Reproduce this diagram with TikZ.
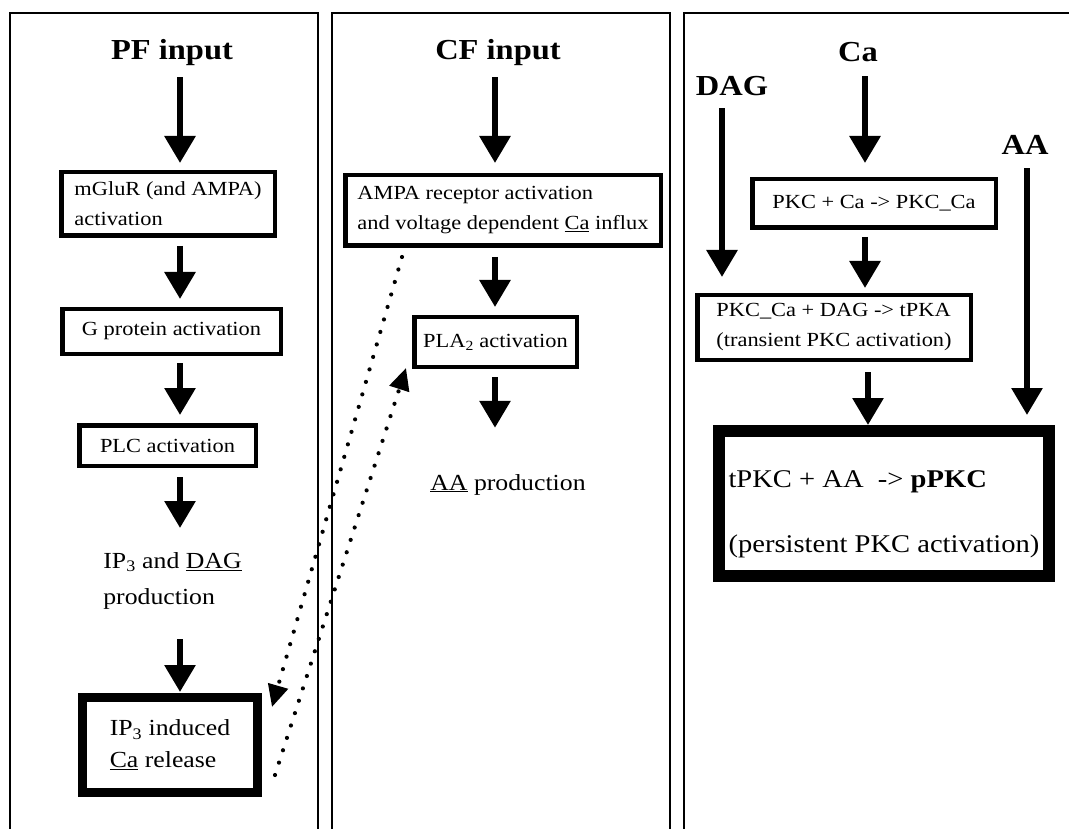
\documentclass[tikz,border=0pt]{standalone}
\usepackage{fontspec}
\setmainfont{Liberation Serif}[FakeStretch=1.12]
\usetikzlibrary{arrows.meta,calc}
\begin{document}
\begin{tikzpicture}[x=1pt,y=-1pt,
  panel/.style={line width=2pt, line join=miter},
  procbox/.style={draw, line width=4.5pt, inner sep=0pt, align=left, font=\fontsize{20}{30}\selectfont},
  thickbox/.style={procbox, line width=9pt, font=\fontsize{23}{32}\selectfont},
  heavybox/.style={procbox, line width=12pt, font=\fontsize{25.5}{30}\selectfont},
  ttl/.style={inner sep=0pt, font=\fontsize{29}{34}\selectfont\bfseries, text height=20pt, text depth=6pt, anchor=base},
  txtnode/.style={inner sep=0pt, align=left, font=\fontsize{23}{36}\selectfont},
  bigarrow/.style={line width=6pt, -{Triangle[width=30pt,length=27pt]}},
  dotarrow/.style={line width=4.2pt, line cap=round, dash pattern=on 0pt off 13pt, -{Triangle[width=20pt,length=22pt]}}
]
\useasboundingbox (0,0) rectangle (1069,829);

% panels
\draw[panel] (10,829) -- (10,13) -- (318,13) -- (318,829);
\draw[panel] (332,829) -- (332,13) -- (670,13) -- (670,829);
\draw[panel] (684,829) -- (684,13) -- (1069,13);

% column coordinates
\coordinate (c1) at (180,0);
\coordinate (c2) at (495,0);
\coordinate (c3) at (722,0);
\coordinate (c4) at (865,0);
\coordinate (c5) at (868,0);
\coordinate (c6) at (1027,0);

% panel 1
\node[ttl] (pf) at (172,60) {PF input};
\node[procbox, minimum width=213.5pt, minimum height=63.5pt] (mg) at (168,204) {mGluR (and AMPA)\\activation};
\node[procbox, minimum width=218.5pt, minimum height=44.5pt] (gp) at (171.5,331.5) {G protein activation};
\node[procbox, minimum width=176.5pt, minimum height=40.5pt] (plc) at (167.5,445.5) {PLC activation};
\node[txtnode, anchor=north] (ipdag) at (172.5,552) {IP\textsubscript{3} and \underline{DAG}\\production};
\node[thickbox, minimum width=175pt, minimum height=95pt] (ip3) at (170,745) {IP\textsubscript{3} induced\\\underline{Ca} release};

% panel 2
\node[ttl] (cf) at (498,60) {CF input};
\node[procbox, minimum width=315.5pt, minimum height=70.5pt] (amp) at (503,210.5) {AMPA receptor activation\\and voltage dependent \underline{Ca} influx};
\node[procbox, minimum width=162.5pt, minimum height=49.5pt] (pla) at (495.5,342) {PLA\textsubscript{2} activation};
\node[txtnode, anchor=base, text height=16pt, text depth=5pt] (aap) at (508,490) {\underline{AA} production};

% panel 3
\node[ttl] (dag) at (732,96) {DAG};
\node[ttl] (ca) at (858,62) {Ca};
\node[ttl] (aa) at (1025,155) {AA};
\node[procbox, minimum width=243.5pt, minimum height=48.5pt] (pkc1) at (874,203.5) {PKC + Ca -> PKC\_Ca};
\node[procbox, minimum width=273.5pt, minimum height=64.5pt] (pkc2) at (834,327.5) {PKC\_Ca + DAG -> tPKA\\(transient PKC activation)};
\node[heavybox, minimum width=330pt, minimum height=145pt] (pkc3) at (884,503.5) {\rule{0pt}{39pt}tPKC + AA\ \ -> \textbf{pPKC}\\[35pt](persistent PKC activation)};

% arrows panel 1
\draw[bigarrow, shorten <=11pt, shorten >=7pt] (c1 |- pf.south) -- (c1 |- mg.north);
\draw[bigarrow, shorten <=8pt, shorten >=8pt] (c1 |- mg.south) -- (c1 |- gp.north);
\draw[bigarrow, shorten <=7pt, shorten >=8pt] (c1 |- gp.south) -- (c1 |- plc.north);
\draw[bigarrow, shorten <=9pt, shorten >=24pt] (c1 |- plc.south) -- (c1 |- ipdag.north);
\draw[bigarrow, shorten <=30pt, shorten >=1pt] (c1 |- ipdag.south) -- (c1 |- ip3.north);

% arrows panel 2
\draw[bigarrow, shorten <=11pt, shorten >=10pt] (c2 |- cf.south) -- (c2 |- amp.north);
\draw[bigarrow, shorten <=9pt, shorten >=8pt] (c2 |- amp.south) -- (c2 |- pla.north);
\draw[bigarrow, shorten <=8pt, shorten >=46pt] (c2 |- pla.south) -- (c2 |- aap.north);

% arrows panel 3
\draw[bigarrow, shorten <=6pt, shorten >=16pt] (c3 |- dag.south) -- (c3 |- pkc2.north);
\draw[bigarrow, shorten <=8pt, shorten >=14pt] (c4 |- ca.south) -- (c4 |- pkc1.north);
\draw[bigarrow, shorten <=7pt, shorten >=5pt] (c4 |- pkc1.south) -- (c4 |- pkc2.north);
\draw[bigarrow, shorten <=10pt, shorten >=0pt] (c5 |- pkc2.south) -- (c5 |- pkc3.north);
\draw[bigarrow, shorten <=7pt, shorten >=10pt] (c6 |- aa.south) -- (c6 |- pkc3.north);

% dotted cross-panel arrows
\coordinate (d1s) at (402,257);
\coordinate (d1e) at (272,707);
\coordinate (d2s) at (275,775);
\coordinate (d2e) at (406,368);
\draw[dotarrow] (d1s) -- (d1e);
\draw[dotarrow] (d2s) -- (d2e);
\end{tikzpicture}
\end{document}
